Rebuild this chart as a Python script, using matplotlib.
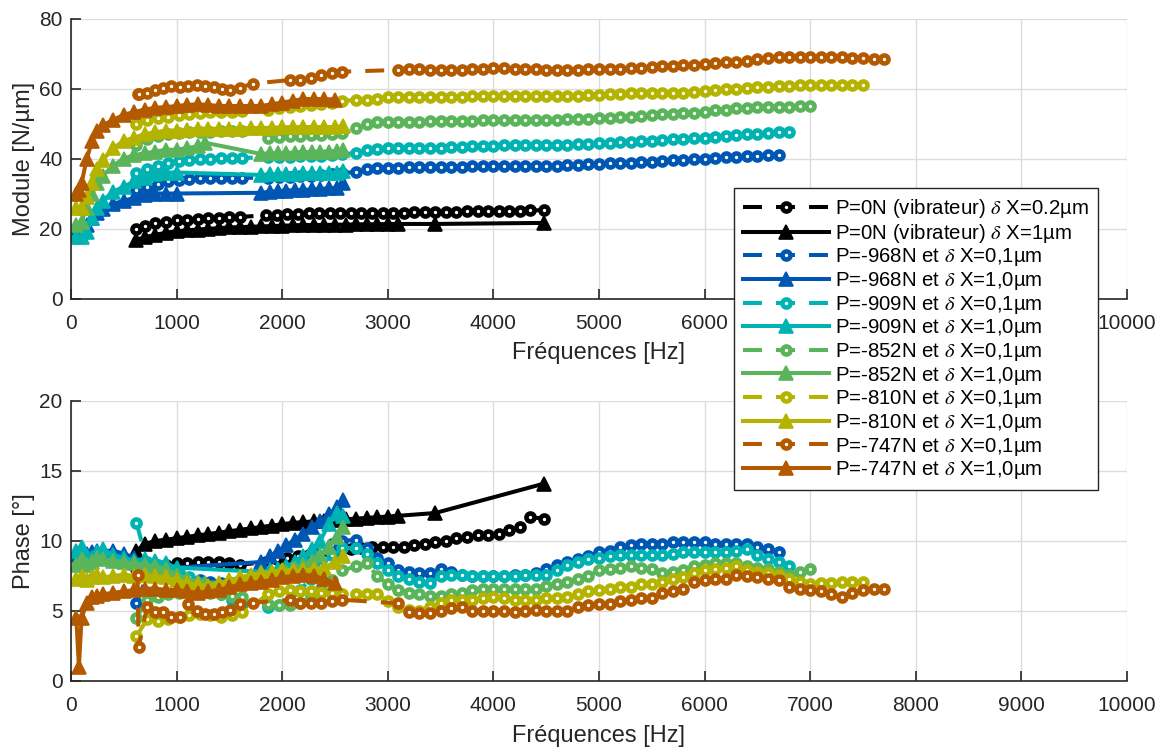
import matplotlib
matplotlib.use('Agg')
import matplotlib.pyplot as plt

plt.rcParams['font.family'] = ['Liberation Sans', 'DejaVu Sans']
plt.rcParams['mathtext.fontset'] = 'stix'

# frequency grids (Hz)
F_LO = [50, 100, 150, 200, 250, 300, 400, 500, 600, 700, 800, 900, 1000]
F_MID_G = [1100, 1200, 1270]
F_MID = [1100, 1200, 1300, 1400, 1500, 1600, 1700, 1800]
F_HI = [1800, 1880, 1960, 2040, 2120, 2200, 2280, 2360, 2440, 2520, 2580]
F_HI_Y = [1900, 2000, 2100, 2200, 2300, 2400, 2500, 2580]
F_HI_O = [1900, 2000, 2100, 2200, 2300, 2400, 2500]
F_LO_O = [50, 75, 100, 150, 200, 250, 300, 400, 500, 600, 700, 800, 900, 1000]
F_BLK_T = [620, 700, 800, 900, 1000, 1100, 1200, 1300, 1400, 1500, 1600, 1700, 1800,
           1900, 2000, 2100, 2200, 2300, 2400, 2500, 2600, 2700, 2800, 2900, 3000, 3100,
           3450, 4480]
F_BLK_C = [620, 700, 800, 900, 1000, 1100, 1200, 1300, 1400, 1500, 1600,
           1850, 1950, 2050, 2150, 2250, 2350, 2450, 2550, 2650, 2750, 2850, 2950, 3050,
           3150, 3250, 3350, 3450, 3550, 3650, 3750, 3850, 3950, 4050, 4150, 4250, 4350, 4480]
F_C_LO = [620, 720, 820, 920, 1020, 1120, 1220, 1320, 1420, 1520, 1620]
F_C_HI = [1870, 1970, 2070, 2170, 2270, 2370, 2470, 2570]
F_O_LO = [630, 640, 720, 800, 870, 950, 1030, 1110, 1190, 1270, 1350, 1430, 1510, 1600, 1720]
F_O_MID = [2070, 2170, 2270, 2370, 2470, 2570]
F_SPARSE = [2700, 2800, 2900, 3000, 3100, 3200, 3300, 3400, 3500, 3600, 3700, 3800, 3900,
            4000, 4100, 4200, 4300, 4400, 4500, 4600, 4700, 4800, 4900, 5000, 5100, 5200,
            5300, 5400, 5500, 5600, 5700, 5800, 5900, 6000, 6100, 6200, 6300, 6400, 6500,
            6600, 6700, 6800, 6900, 7000, 7100, 7200, 7300, 7400, 7500, 7600, 7700]

# ---------------- module [N/um] ----------------
mod_blk_c = [20, 20.8, 21.5, 22, 22.3, 22.5, 22.7, 22.9, 23.0, 23.2, 23.3,
             23.8, 24, 24.1, 24.2, 24.3, 24.3, 24.4, 24.4, 24.4, 24.5, 24.5, 24.5, 24.5, 24.5,
             24.6, 24.6, 24.7, 24.8, 24.8, 24.9, 24.9, 24.9, 25, 25, 25, 25.2, 25.2]
mod_blk_t = [16.8, 17.5, 18.2, 18.8, 19.2, 19.5, 19.7, 19.9, 20.1, 20.3, 20.4, 20.5, 20.6,
             20.7, 20.8, 20.9, 21, 21, 21, 21.1, 21.1, 21.2, 21.2, 21.2, 21.3, 21.3, 21.3, 21.6]

mod_b_c_lo = [31, 32, 32.8, 33.5, 34, 34.2, 34.3, 34.3, 34.4, 34.4, 34.5]
mod_b_c_hi = [34.5, 34.6, 34.8, 35, 35.1, 35.3, 35.5, 35.8]
mod_b_c_sp = [36.2, 37, 37.2, 37.3, 37.4, 37.5, 37.5, 37.5, 37.6, 37.7, 37.7, 37.8, 37.9, 38, 38,
              38, 38, 38, 38, 38, 38.1, 38.2, 38.3, 38.3, 38.6, 38.8, 38.8, 39, 39, 39.2,
              39.5, 39.7, 39.8, 40, 40.2, 40.4, 40.5, 40.6, 40.7, 40.9, 41]
mod_b_t_lo = [19, 19.5, 21, 23, 24.5, 25.5, 27, 28, 28.7, 29.5, 30, 30, 30]
mod_b_t_hi = [30.2, 30.5, 30.7, 30.8, 31, 31, 31.2, 31.3, 31.5, 31.6, 33]

mod_c_c_lo = [36, 37, 38, 38.8, 39.3, 39.7, 40, 40, 40.1, 40.2, 40.2]
mod_c_c_hi = [40.3, 40.4, 40.5, 40.6, 40.7, 40.8, 41, 41.2]
mod_c_c_sp = [41.6, 42.3, 42.7, 42.9, 42.9, 43, 43, 43, 43.1, 43.2, 43.3, 43.5, 43.6, 43.7,
              43.8, 43.8, 43.9, 43.9, 44, 44, 44, 44.1, 44.2, 44.3, 44.5, 44.7, 44.8, 44.9,
              45.1, 45.3, 45.5, 45.7, 45.9, 46, 46.2, 46.4, 46.7, 46.9, 47.1, 47.3, 47.6, 47.7]
mod_c_t_lo = [17.5, 17.5, 19, 23, 26, 28, 30.5, 32, 33.5, 34.5, 35.5, 36, 36]
mod_c_t_hi = [35.3, 35.5, 35.5, 35.6, 35.7, 35.8, 35.8, 35.9, 36, 36, 36.3]

mod_g_c_lo = [44, 45.5, 46.5, 47, 47.3, 47.5, 47.6, 47.7, 47.8, 47.8, 47.8]
mod_g_c_hi = [46, 46.2, 46.4, 46.5, 46.6, 46.8, 47, 47.2]
mod_g_c_sp = [48.6, 50, 50.3, 50.5, 50.5, 50.5, 50.5, 50.6, 50.6, 50.7, 50.7, 50.8, 50.9, 51,
              51, 51, 51, 51, 51, 51.1, 51.2, 51.3, 51.4, 51.5, 51.7, 51.9, 52, 52.2, 52.4,
              52.6, 52.8, 52.9, 53.1, 53.4, 53.8, 54, 54.3, 54.5, 54.6, 54.7, 54.8, 54.8,
              54.9, 55]
mod_g_t_lo = [21, 22, 26, 30, 33, 35, 38, 40, 41, 41.5, 42, 42.5, 42.5]
mod_g_t_mid = [43, 43.5, 44.5]
mod_g_t_hi = [41.3, 41.5, 41.5, 41.6, 41.7, 41.8, 41.9, 42, 42, 42.1, 42.5]

mod_y_c_lo = [50, 51, 51.5, 52, 52.5, 52.8, 53, 53.2, 53.3, 53.4, 53.5]
mod_y_c_hi = [54, 54.3, 54.6, 55, 55.3, 55.6, 56, 56.5]
mod_y_c_sp = [56.7, 56.8, 57, 57.5, 57.7, 57.7, 57.7, 57.6, 57.6, 57.7, 57.7, 57.8, 57.8,
              57.9, 57.9, 57.9, 57.8, 57.8, 57.8, 57.9, 58, 58, 58.1, 58.1, 58.3, 58.5,
              58.6, 58.6, 58.6, 58.7, 58.8, 58.8, 59, 59.3, 59.6, 59.8, 60, 60.1, 60.3,
              60.5, 60.6, 60.8, 61, 61.1, 61.1, 61.1, 61.1, 61.1, 61.1]
mod_y_t_lo = [26, 26, 29, 33, 37, 39.5, 43, 45, 46, 47, 47.5, 48, 48]
mod_y_t_mid = [48.2, 48.5, 48.5, 48.5, 48.5, 48.5, 48.7, 48.7]
mod_y_t_hi = [48.8, 48.9, 49, 49, 49, 49, 49, 49.2]

mod_o_c_lo = [58.3, 58.3, 58.8, 59.5, 60.2, 60.6, 60.4, 60.6, 61, 60.8, 60.5, 60.0, 59.7,
              60.2, 61.4]
mod_o_c_mid = [62.4, 62.4, 62.9, 63.8, 64.3, 64.8]
mod_o_c_sp = [65.3, 65.5, 65.5, 65.4, 65.3, 65.3, 65.4, 65.6, 65.7, 65.8, 65.8, 65.7, 65.6,
              65.5, 65.4, 65.3, 65.3, 65.4, 65.5, 65.6, 65.6, 65.7, 65.8, 66, 66.2, 66.3,
              66.5, 66.7, 66.8, 67, 67.2, 67.5, 67.7, 68, 68.4, 68.8, 68.9, 69, 69, 69, 69,
              68.9, 68.9, 68.7, 68.6, 68.4, 68.3]
mod_o_t_lo = [30, 31, 33, 40, 45, 48, 49.5, 51, 52.5, 53.3, 54, 54.5, 54.7, 55]
mod_o_t_mid = [55.3, 55.5, 55.3, 55, 55, 55, 55, 55]
mod_o_t_hi = [55.5, 56, 56.5, 57, 57, 57, 56.8]

# ---------------- phase [deg] ----------------
ph_blk_c = [8.0, 8.2, 8.3, 8.3, 8.4, 8.4, 8.5, 8.5, 8.5, 8.4, 8.3,
            8.5, 8.7, 8.8, 8.9, 9.0, 9.1, 9.2, 9.3, 9.4, 9.5, 9.6, 9.6, 9.6, 9.6, 9.7, 9.8,
            9.9, 10.0, 10.2, 10.3, 10.4, 10.4, 10.5, 10.8, 11.0, 11.7, 11.6]
ph_blk_t = [9.3, 9.8, 10.0, 10.1, 10.2, 10.3, 10.4, 10.5, 10.6, 10.7, 10.8, 10.9, 11.0,
            11.1, 11.2, 11.3, 11.35, 11.4, 11.45, 11.5, 11.55, 11.6, 11.65, 11.7, 11.75,
            11.8, 12.0, 14.1]

ph_b_c_lo = [5.6, 7.5, 7.6, 7.5, 7.4, 7.3, 7.2, 7.1, 7.0, 7.0, 7.1]
ph_b_c_hi = [7.3, 7.6, 8.0, 8.5, 9.0, 9.4, 9.8, 10.0]
ph_b_c_sp = [10.1, 9.5, 8.8, 8.4, 7.9, 7.8, 7.7, 7.7, 8.0, 7.8, 7.6, 7.5, 7.5, 7.5, 7.5,
             7.6, 7.6, 7.7, 8.0, 8.3, 8.5, 8.7, 8.9, 9.2, 9.3, 9.6, 9.7, 9.8, 9.8, 9.8,
             9.9, 9.95, 9.95, 9.9, 9.8, 9.8, 9.8, 9.8, 9.6, 9.4, 9.2]
ph_b_t_lo = [9.0, 9.0, 9.1, 9.2, 9.3, 9.3, 9.3, 9.1, 8.8, 8.5, 8.3, 8.2, 8.1]
ph_b_t_hi = [8.5, 8.9, 9.3, 9.7, 10.1, 10.5, 11.0, 11.4, 11.9, 12.4, 12.9]

ph_c_c_lo = [11.3, 8.5, 8.3, 8.0, 7.8, 7.4, 7.0, 6.6, 6.2, 5.8, 5.5]
ph_c_c_hi = [5.3, 5.4, 5.7, 6.5, 7.3, 8.2, 9.0, 9.5]
ph_c_c_sp = [9.5, 9.1, 8.4, 7.9, 7.5, 7.3, 7.1, 7.0, 7.5, 7.6, 7.6, 7.5, 7.5, 7.5, 7.5,
             7.5, 7.6, 7.6, 7.6, 7.9, 8.3, 8.5, 8.7, 8.8, 8.9, 9.0, 9.0, 9.0, 9.0, 9.0,
             9.1, 9.2, 9.2, 9.2, 9.2, 9.2, 9.3, 9.4, 9.0, 8.7, 8.5, 8.2]
ph_c_t_lo = [9.3, 9.6, 8.9, 8.8, 9.2, 9.4, 9.0, 8.8, 8.6, 8.7, 8.6, 8.4, 8.1]
ph_c_t_hi = [7.8, 7.9, 8.0, 8.2, 8.5, 8.9, 9.4, 10.0, 11.2, 12.0, 11.8]

ph_g_c_lo = [4.5, 5.8, 6.0, 6.2, 6.3, 6.4, 6.4, 6.3, 6.2, 6.1, 6.0]
ph_g_c_hi = [5.5, 5.4, 5.4, 5.6, 6.0, 6.6, 7.2, 7.9]
ph_g_c_sp = [8.2, 8.4, 7.5, 6.9, 6.5, 6.3, 6.2, 6.1, 6.1, 6.2, 6.3, 6.5, 6.6, 6.6, 6.6,
             6.6, 6.6, 6.6, 6.8, 6.9, 7.1, 7.3, 7.5, 7.9, 8.0, 8.1, 8.2, 8.1, 8.0, 7.7,
             7.8, 7.9, 8.2, 8.3, 8.4, 8.4, 8.4, 8.2, 8.1, 8.0, 7.8, 7.6, 7.8, 8.0]
ph_g_t_lo = [8.3, 8.7, 8.3, 8.5, 8.8, 8.7, 8.6, 8.5, 8.4, 8.3, 8.2, 8.0, 7.6]
ph_g_t_mid = [7.3, 7.1, 7.0]
ph_g_t_hi = [7.2, 7.4, 7.6, 7.8, 8.1, 8.3, 8.6, 9.0, 9.6, 10.3, 11.0]

ph_y_c_lo = [3.2, 4.4, 4.3, 4.4, 4.6, 4.7, 4.8, 4.7, 4.6, 4.7, 4.9]
ph_y_c_hi = [6.2, 6.4, 6.5, 6.4, 6.4, 6.3, 6.3, 6.2]
ph_y_c_sp = [6.2, 6.2, 6.2, 5.7, 5.3, 5.1, 5.0, 5.3, 5.6, 5.8, 5.8, 5.8, 5.9, 6.0, 5.9,
             5.8, 5.8, 5.8, 5.9, 5.9, 6.0, 6.2, 6.4, 6.5, 6.6, 6.7, 6.7, 6.9, 6.95, 7.1,
             7.3, 7.45, 7.7, 7.9, 8.0, 8.1, 8.2, 7.9, 7.8, 7.7, 7.6, 7.3, 7.1, 6.95, 7.0,
             7.0, 7.1, 7.1, 7.1]
ph_y_t_lo = [7.3, 7.5, 7.2, 7.4, 7.6, 7.4, 7.5, 7.6, 7.5, 7.6, 7.5, 7.4, 7.2]
ph_y_t_mid = [7.0, 6.9, 6.8, 7.0, 7.2, 7.4, 7.6, 7.7]
ph_y_t_hi = [7.8, 7.9, 7.9, 7.9, 8.0, 8.1, 8.5, 8.9]

ph_o_c_lo = [7.6, 2.4, 5.3, 4.9, 4.9, 4.6, 4.6, 5.5, 5.0, 4.8, 4.8, 4.9, 5.1, 5.5, 5.6]
ph_o_c_mid = [5.8, 5.6, 5.6, 5.6, 5.7, 5.8]
ph_o_c_sp = [5.55, 4.9, 4.85, 4.85, 5.0, 5.2, 5.3, 5.0, 5.0, 5.0, 5.0, 4.9, 5.0, 5.1, 5.0,
             5.0, 5.0, 5.3, 5.4, 5.5, 5.5, 5.7, 5.8, 5.9, 5.9, 6.3, 6.4, 6.6, 7.1, 7.2,
             7.3, 7.3, 7.6, 7.5, 7.4, 7.3, 7.2, 6.7, 6.6, 6.5, 6.4, 6.2, 6.0, 6.3, 6.5,
             6.6, 6.6]
ph_o_t_lo = [4.5, 1.0, 4.5, 5.6, 6.0, 6.1, 6.2, 6.3, 6.4, 6.5, 6.6, 6.6, 6.5, 6.5]
ph_o_t_mid = [6.4, 6.3, 6.4, 6.5, 6.7, 6.9, 7.0, 7.1]
ph_o_t_hi = [7.2, 7.4, 7.5, 7.6, 7.5, 7.3, 7.0]

labels = [r'P=0N (vibrateur) $\delta$ X=0.2µm', r'P=0N (vibrateur) $\delta$ X=1µm',
          r'P=-968N et $\delta$ X=0,1µm', r'P=-968N et $\delta$ X=1,0µm',
          r'P=-909N et $\delta$ X=0,1µm', r'P=-909N et $\delta$ X=1,0µm',
          r'P=-852N et $\delta$ X=0,1µm', r'P=-852N et $\delta$ X=1,0µm',
          r'P=-810N et $\delta$ X=0,1µm', r'P=-810N et $\delta$ X=1,0µm',
          r'P=-747N et $\delta$ X=0,1µm', r'P=-747N et $\delta$ X=1,0µm']
colors = ['black', '#0057b3', '#00b3b3', '#5ab45a', '#b3b300', '#b35900']

# (freq, module, phase) per series, in legend order
sp = F_SPARSE
series = [
    (F_BLK_C, mod_blk_c, ph_blk_c),
    (F_BLK_T, mod_blk_t, ph_blk_t),
    (F_C_LO + F_C_HI + sp[:len(mod_b_c_sp)], mod_b_c_lo + mod_b_c_hi + mod_b_c_sp, ph_b_c_lo + ph_b_c_hi + ph_b_c_sp),
    (F_LO + F_HI, mod_b_t_lo + mod_b_t_hi, ph_b_t_lo + ph_b_t_hi),
    (F_C_LO + F_C_HI + sp[:len(mod_c_c_sp)], mod_c_c_lo + mod_c_c_hi + mod_c_c_sp, ph_c_c_lo + ph_c_c_hi + ph_c_c_sp),
    (F_LO + F_HI, mod_c_t_lo + mod_c_t_hi, ph_c_t_lo + ph_c_t_hi),
    (F_C_LO + F_C_HI + sp[:len(mod_g_c_sp)], mod_g_c_lo + mod_g_c_hi + mod_g_c_sp, ph_g_c_lo + ph_g_c_hi + ph_g_c_sp),
    (F_LO + F_MID_G + F_HI, mod_g_t_lo + mod_g_t_mid + mod_g_t_hi, ph_g_t_lo + ph_g_t_mid + ph_g_t_hi),
    (F_C_LO + F_C_HI + sp[:len(mod_y_c_sp)], mod_y_c_lo + mod_y_c_hi + mod_y_c_sp, ph_y_c_lo + ph_y_c_hi + ph_y_c_sp),
    (F_LO + F_MID + F_HI_Y, mod_y_t_lo + mod_y_t_mid + mod_y_t_hi, ph_y_t_lo + ph_y_t_mid + ph_y_t_hi),
    (F_O_LO + F_O_MID + sp[4:], mod_o_c_lo + mod_o_c_mid + mod_o_c_sp, ph_o_c_lo + ph_o_c_mid + ph_o_c_sp),
    (F_LO_O + F_MID + F_HI_O, mod_o_t_lo + mod_o_t_mid + mod_o_t_hi, ph_o_t_lo + ph_o_t_mid + ph_o_t_hi),
]

LW = 2.9
TXT = '#262626'

fig = plt.figure(figsize=(11.66, 7.51), dpi=100)
ax1 = fig.add_axes([71 / 1166, 1 - 298.5 / 751, 1056 / 1166, 280 / 751])
ax2 = fig.add_axes([71 / 1166, 1 - 681 / 751, 1056 / 1166, 280 / 751])

handles = []
for i, (f, m, p) in enumerate(series):
    col = colors[(i + 2) // 2 - 1] if i > 1 else 'black'
    if i % 2 == 0:
        kw = dict(color=col, lw=LW, ls=(0, (4.7, 3.5)), marker='o', ms=5.8, mew=3.3,
                  mfc='white', mec=col)
    else:
        kw = dict(color=col, lw=LW, ls='-', marker='^', ms=10.5, mew=1.2,
                  mfc=col, mec=col)
    h, = ax1.plot(f, m, label=labels[i], **kw)
    ax2.plot(f, p, **kw)
    handles.append(h)

for ax, ylim, yt, yl in [(ax1, (0, 80), [0, 20, 40, 60, 80], 'Module [N/µm]'),
                         (ax2, (0, 20), [0, 5, 10, 15, 20], 'Phase [°]')]:
    ax.set_xlim(0, 10000)
    ax.set_ylim(*ylim)
    ax.set_xticks(range(0, 10001, 1000))
    ax.set_yticks(yt)
    ax.grid(True, color='#dcdcdc', lw=1)
    ax.set_axisbelow(True)
    ax.spines['top'].set_visible(False)
    ax.spines['right'].set_visible(False)
    for s in ['left', 'bottom']:
        ax.spines[s].set_color(TXT)
        ax.spines[s].set_linewidth(1.2)
    ax.tick_params(direction='in', length=7, width=1.2, labelsize=15, colors=TXT)
    ax.tick_params(axis='x', pad=11)
    ax.tick_params(axis='y', pad=6)
    ax.set_xlabel('Fréquences [Hz]', fontsize=17, color=TXT, labelpad=7)
    ax.set_ylabel(yl, fontsize=17, color=TXT, labelpad=3)

leg = fig.legend(handles=handles, loc='upper left', bbox_to_anchor=(734 / 1166, 1 - 188 / 751),
                 borderaxespad=0, fontsize=14.7, handlelength=4.2, handletextpad=0.3,
                 labelspacing=0.08, borderpad=0.45, fancybox=False, framealpha=1,
                 edgecolor=TXT)
leg.get_frame().set_linewidth(1.0)

fig.savefig('out.png', dpi=100)
